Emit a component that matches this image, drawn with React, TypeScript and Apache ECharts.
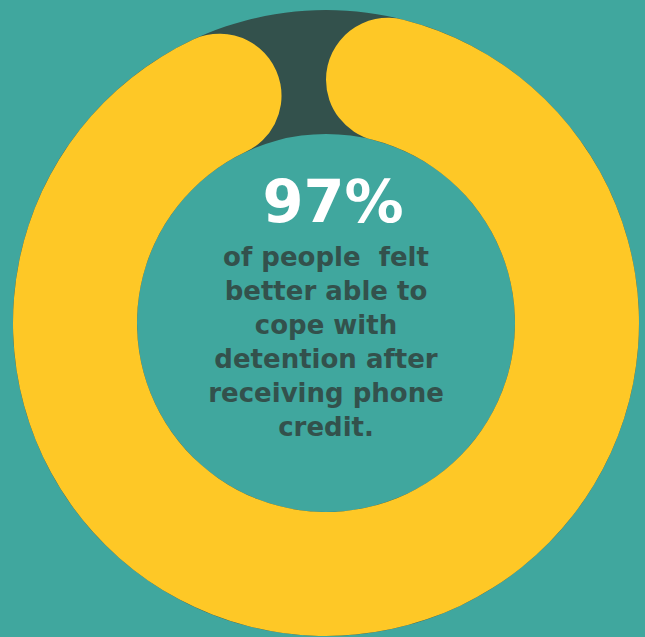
import React, { useEffect, useRef } from "react";
import * as echarts from "echarts";

const categories = ["Felt better able to cope", "Did not"];
const values = [97, 3];
const headline = "97%";
const captionLines = [
  "of people  felt",
  "better able to",
  "cope with",
  "detention after",
  "receiving phone",
  "credit.",
];

const TEAL = "#40a79e";
const YELLOW = "#fec826";
const DARK = "#33514c";

export default function App() {
  const ref = useRef<HTMLDivElement>(null);
  useEffect(() => {
    document.body.style.margin = "0";
    const chart = echarts.init(ref.current!, null, { renderer: "svg" });
    chart.setOption({
      animation: false,
      backgroundColor: TEAL,
      series: [
        {
          type: "pie",
          silent: true,
          center: [326, 323],
          radius: [189, 313],
          label: { show: false },
          labelLine: { show: false },
          data: [{ name: "bg", value: 100, itemStyle: { color: DARK } }],
        },
        {
          type: "pie",
          silent: true,
          center: [326, 323],
          radius: [189, 313],
          startAngle: 90,
          clockwise: true,
          label: { show: false },
          labelLine: { show: false },
          itemStyle: { borderRadius: 62 },
          data: categories.map((c, i) => ({
            name: c,
            value: values[i],
            itemStyle: { color: i === 0 ? YELLOW : "rgba(0,0,0,0)" },
          })),
        },
      ],
      graphic: [
        {
          type: "text",
          x: 333,
          y: 201,
          style: {
            text: headline,
            fill: "#ffffff",
            font: "bold 59px 'DejaVu Sans'",
            align: "center",
            verticalAlign: "middle",
          },
        },
        {
          type: "text",
          x: 326,
          y: 240,
          style: {
            text: captionLines.join("\n"),
            fill: DARK,
            font: "bold 26px 'DejaVu Sans'",
            align: "center",
            verticalAlign: "top",
            lineHeight: 34,
          },
        },
      ],
    });
    return () => chart.dispose();
  }, []);
  return (
    <div
      ref={ref}
      style={{ position: "fixed", left: 0, top: 0, width: 645, height: 637 }}
    />
  );
}
